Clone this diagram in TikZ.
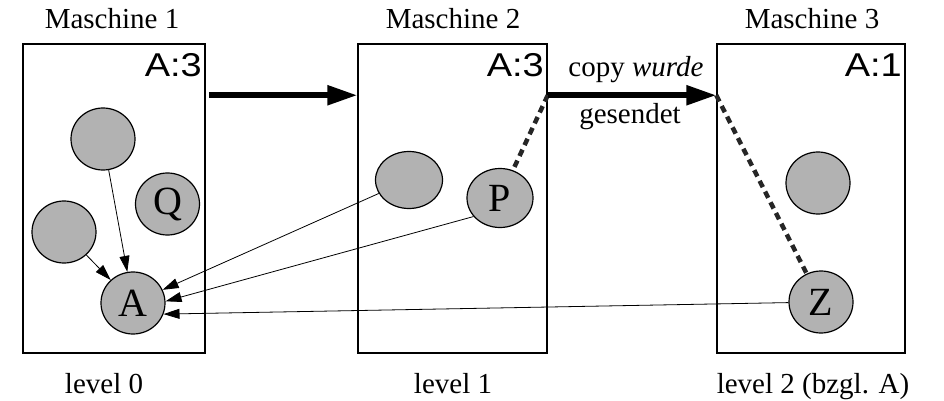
\documentclass[tikz,border=0pt]{standalone}
\usepackage{fontspec}
\setmainfont{Liberation Serif}
\setsansfont{Liberation Sans}
\usetikzlibrary{shapes.geometric, arrows.meta, positioning}

\begin{document}
\begin{tikzpicture}[x=1pt, y=-1pt,
    % Styles
    machine/.style={rectangle, draw=black, line width=1.5pt, minimum height=309pt, inner sep=0pt},
    proc/.style={ellipse, draw=black, line width=1.2pt, fill=black!30, minimum width=64pt, minimum height=62pt, inner sep=0pt, font=\fontsize{40}{44}\selectfont},
    mlabel/.style={font=\fontsize{29}{34}\selectfont, anchor=base, inner sep=0pt},
    acount/.style={font=\sffamily\fontsize{33}{36}\selectfont, anchor=base east, inner sep=0pt},
    big arrow/.style={-{Triangle[length=30pt,width=19pt]}, line width=5.5pt},
    thin arrow/.style={-{Triangle[length=16pt,width=10pt]}, line width=0.8pt},
    copy line/.style={line width=4.5pt, dash pattern=on 7pt off 5pt, draw=black!85}
]
\useasboundingbox (0,0) rectangle (944,401);

% Machines
\node[machine, minimum width=182pt] (m1) at (114,198.5) {};
\node[machine, minimum width=189pt] (m2) at (452.5,198.5) {};
\node[machine, minimum width=188pt] (m3) at (811,198.5) {};

\node[mlabel] (t1) at (112,29) {Maschine 1};
\node[mlabel] (t2) at (453,29) {Maschine 2};
\node[mlabel] (t3) at (812,29) {Maschine 3};

\node[acount] (n1) at (202,77) {\scalebox{1.15}[1]{A:3}};
\node[acount] (n2) at (544,77) {\scalebox{1.15}[1]{A:3}};
\node[acount] (n3) at (902,77) {\scalebox{1.15}[1]{A:1}};

\node[mlabel] (l0) at (104,393) {level 0};
\node[mlabel] (l1) at (453,393) {level 1};
\node[mlabel] (l2) at (813,393) {level 2 (bzgl. A)};

% Processes on machine 1
\node[proc] (u1) at (103,139) {};
\node[proc] (q) at (167.5,204) {Q};
\node[proc] (u2) at (64,232) {};
\node[proc] (a) at (133,303) {A};

% Processes on machine 2
\node[proc, minimum width=67pt, minimum height=57pt] (v1) at (409,180) {};
\node[proc, minimum width=66pt, minimum height=59pt] (p) at (500,198) {P};

% Processes on machine 3
\node[proc] (w1) at (818,183) {};
\node[proc] (z) at (821,302) {Z};

% Migration
\coordinate (send) at ([yshift=-52pt]m2.north east);
\coordinate (recv) at ([yshift=-52pt]m3.north west);

\draw[copy line] (send) -- (p);
\draw[copy line] (recv) -- (z);

\draw[big arrow] ([xshift=3pt,yshift=-52pt]m1.north east) -- ([yshift=-52pt]m2.north west);
\draw[big arrow] (send) -- (recv);
\node[mlabel] (cw) at (636,77) {copy \textit{wurde}};
\node[mlabel] (gs) at (630,124) {gesendet};

% References to A
\draw[thin arrow] (u1) -- (a);
\draw[thin arrow] (u2) -- (a);
\draw[thin arrow] (v1) -- (a);
\draw[thin arrow] (p.215) -- (a.3);
\draw[thin arrow] (z) -- (a.-20);

\end{tikzpicture}
\end{document}
